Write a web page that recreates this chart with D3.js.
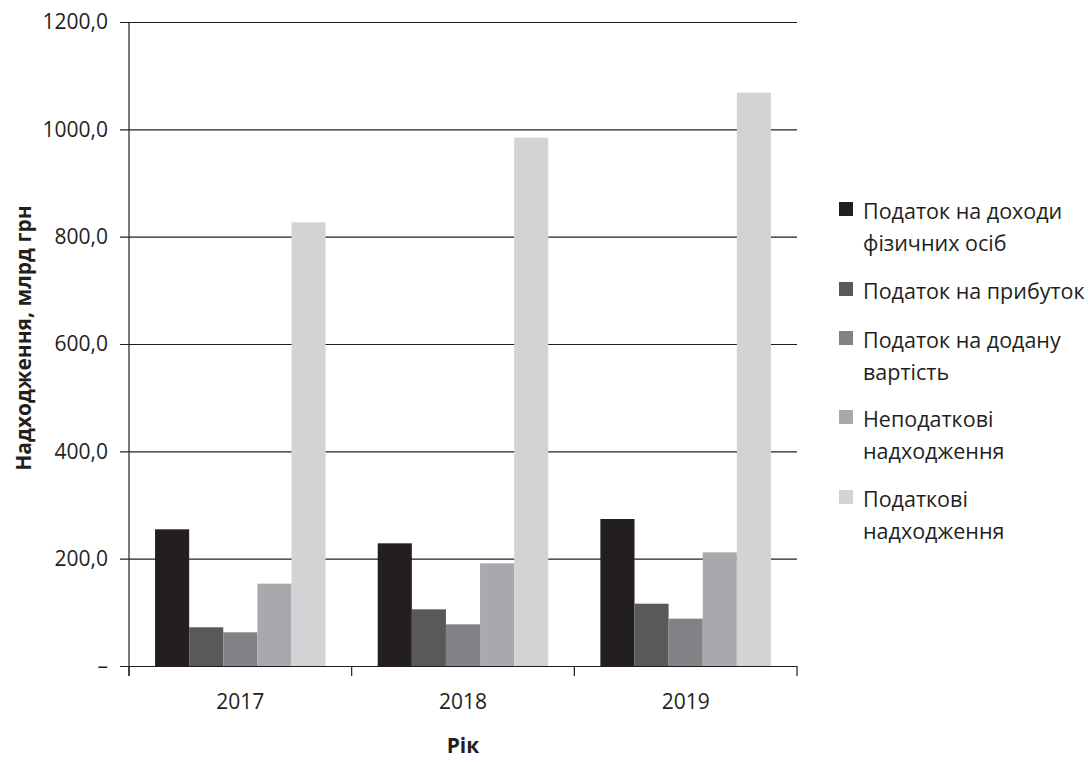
<!DOCTYPE html>
<html>
<head>
<meta charset="utf-8">
<script src="https://cdn.jsdelivr.net/npm/d3@7"></script>
<style>
  body { margin: 0; background: #fff; }
  svg { display: block; }
  svg text { font-family: "Open Sans", sans-serif; }
</style>
</head>
<body>
<div id="chart"></div>
<script>
const years = ["2017", "2018", "2019"];
const series = [
  "Податок на доходи фізичних осіб",
  "Податок на прибуток",
  "Податок на додану вартість",
  "Неподаткові надходження",
  "Податкові надходження",
];
// legend lines (wrapped as in the picture)
const legendLines = [
  ["Податок на доходи", "фізичних осіб"],
  ["Податок на прибуток"],
  ["Податок на додану", "вартість"],
  ["Неподаткові", "надходження"],
  ["Податкові", "надходження"],
];
const pdfo = [254.7, 228.6, 273.9];
const profit = [72.1, 105.6, 116.1];
const vat = [62.8, 77.6, 88.2];
const nonTax = [153.4, 191.3, 211.8];
const taxRev = [826.8, 984.5, 1068.3];
const yTicks = [0, 200, 400, 600, 800, 1000, 1200];
const colors = ["#231f20", "#58595b", "#808285", "#a7a9ac", "#d1d3d4"];

const values = [pdfo, profit, vat, nonTax, taxRev];
const data = years.map((yr, i) => ({
  year: yr,
  vals: series.map((s, j) => ({ key: s, value: values[j][i], idx: j })),
}));

const width = 1088;
const height = 762;
const margin = { top: 22, right: 291, bottom: 96, left: 129 };
const ink = "#231f20";

const svg = d3
  .select("#chart")
  .append("svg")
  .attr("width", width)
  .attr("height", height);

const x0 = d3
  .scaleBand()
  .domain(years)
  .range([margin.left, width - margin.right]);

const pad = x0.bandwidth() * 0.117;
const x1 = d3
  .scaleBand()
  .domain(series)
  .range([pad, x0.bandwidth() - pad]);

const y = d3
  .scaleLinear()
  .domain([0, 1200])
  .range([height - margin.bottom, margin.top]);

const x0r = width - margin.right;

// y axis with gridlines
const yAxis = svg
  .append("g")
  .attr("transform", `translate(${margin.left},0)`)
  .call(
    d3
      .axisLeft(y)
      .tickValues(yTicks)
      .tickSize(-(x0r - margin.left))
      .tickSizeOuter(0)
      .tickFormat((d) => (d === 0 ? "–" : d3.format(".1f")(d).replace(".", ",")))
  )
  .attr("font-family", null);
yAxis.select(".domain").remove();
yAxis.selectAll(".tick line").attr("stroke", ink).attr("stroke-width", 1.2).attr("x1", -9);
yAxis
  .selectAll(".tick text")
  .attr("x", -21)
  .attr("fill", ink)
  .style("font-size", "21px");

// bars
svg
  .append("g")
  .selectAll("g")
  .data(data)
  .join("g")
  .attr("transform", (d) => `translate(${x0(d.year)},0)`)
  .selectAll("rect")
  .data((d) => d.vals)
  .join("rect")
  .attr("x", (d) => x1(d.key))
  .attr("width", x1.bandwidth())
  .attr("y", (d) => y(d.value))
  .attr("height", (d) => y(0) - y(d.value))
  .attr("fill", (d) => colors[d.idx]);

// x axis
const xAxis = svg
  .append("g")
  .attr("transform", `translate(0,${y(0)})`)
  .call(d3.axisBottom(x0).tickSize(0).tickSizeOuter(0))
  .attr("font-family", null);
xAxis.select(".domain").remove();
xAxis
  .selectAll(".tick text")
  .attr("dy", 0)
  .attr("y", 43)
  .attr("fill", ink)
  .style("font-size", "21px");

// category separators
svg
  .append("g")
  .selectAll("line")
  .data([...years.map((d) => x0(d)), x0r])
  .join("line")
  .attr("x1", (d) => d)
  .attr("x2", (d) => d)
  .attr("y1", y(0))
  .attr("y2", y(0) + 10)
  .attr("stroke", ink)
  .attr("stroke-width", 1.2);

// vertical axis line
svg
  .append("line")
  .attr("x1", margin.left)
  .attr("x2", margin.left)
  .attr("y1", y(1200))
  .attr("y2", y(0) + 10)
  .attr("stroke", ink)
  .attr("stroke-width", 1.2);

// axis titles
svg
  .append("text")
  .attr("transform", `translate(31,338) rotate(-90)`)
  .attr("text-anchor", "middle")
  .attr("fill", ink)
  .style("font-size", "21px")
  .style("font-weight", "bold")
  .text("Надходження, млрд грн");

svg
  .append("text")
  .attr("x", (margin.left + x0r) / 2)
  .attr("y", 753)
  .attr("text-anchor", "middle")
  .attr("fill", ink)
  .style("font-size", "21px")
  .style("font-weight", "bold")
  .text("Рік");

// legend
const legendBase = [219, 299, 348, 427, 507];
const legend = svg
  .append("g")
  .selectAll("g")
  .data(series)
  .join("g")
  .attr("transform", (d, i) => `translate(839,${legendBase[i]})`);

legend
  .append("rect")
  .attr("y", -17)
  .attr("width", 14)
  .attr("height", 14)
  .attr("fill", (d, i) => colors[i]);

legend
  .append("text")
  .attr("fill", ink)
  .style("font-size", "21.5px")
  .selectAll("tspan")
  .data((d, i) => legendLines[i])
  .join("tspan")
  .attr("x", 24)
  .attr("y", (d, i) => i * 32)
  .text((d) => d);
</script>
</body>
</html>
